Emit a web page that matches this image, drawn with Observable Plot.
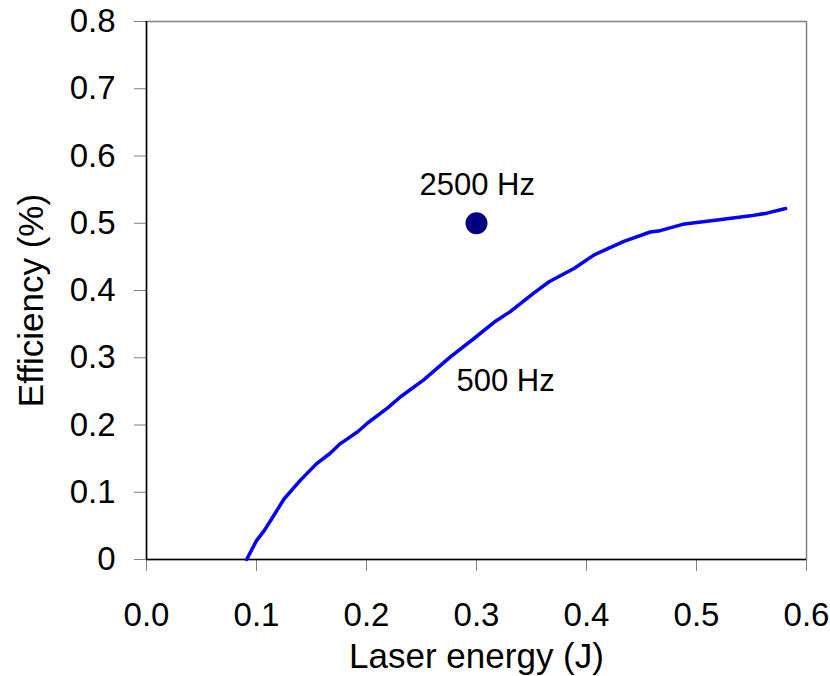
<!DOCTYPE html>
<html>
<head>
<meta charset="utf-8">
<script src="https://cdn.jsdelivr.net/npm/d3@7"></script>
<script src="https://cdn.jsdelivr.net/npm/@observablehq/plot@0.6"></script>
<style>
  html, body { margin: 0; padding: 0; background: #fff; }
  #chart { width: 830px; height: 676px; }
  svg { font-family: "Liberation Sans", Arial, sans-serif; }
</style>
</head>
<body>
<div id="chart"></div>
<script>
// 500 Hz curve: laser energy (J) vs efficiency (%)
const energy500 = [0.091, 0.100, 0.107, 0.114, 0.125, 0.140, 0.155, 0.167, 0.176, 0.192, 0.201, 0.219, 0.231, 0.252, 0.276, 0.298, 0.317, 0.331, 0.352, 0.366, 0.389, 0.407, 0.434, 0.458, 0.467, 0.489, 0.519, 0.549, 0.564, 0.581];
const eff500    = [0.000, 0.028, 0.043, 0.061, 0.090, 0.118, 0.143, 0.158, 0.172, 0.190, 0.203, 0.225, 0.242, 0.267, 0.301, 0.329, 0.354, 0.369, 0.396, 0.413, 0.433, 0.453, 0.473, 0.487, 0.489, 0.499, 0.505, 0.511, 0.515, 0.522];

// 2500 Hz single point
const energy2500 = [0.3];
const eff2500 = [0.5];

// annotation labels (data units)
const labelText = ["2500 Hz", "500 Hz"];
const labelX = [0.3006, 0.3264];
const labelY = [0.557, 0.265];

const xTicks = [0, 0.1, 0.2, 0.3, 0.4, 0.5, 0.6];
const yTicks = [0, 0.1, 0.2, 0.3, 0.4, 0.5, 0.6, 0.7, 0.8];
const xTitle = "Laser energy (J)";
const yTitle = "Efficiency (%)";

const curve = energy500.map((e, i) => ({e, v: eff500[i]}));
const point = energy2500.map((e, i) => ({e, v: eff2500[i]}));
const labels = labelText.map((t, i) => ({t, x: labelX[i], y: labelY[i]}));

const chart = Plot.plot({
  width: 830,
  height: 676,
  marginLeft: 146,
  marginRight: 24,
  marginTop: 21,
  marginBottom: 117,
  style: {fontFamily: '"Liberation Sans", Arial, sans-serif', background: "#fff", overflow: "visible"},
  x: {domain: [0, 0.6]},
  y: {domain: [0, 0.8]},
  marks: [
    Plot.frame({stroke: "#808080", strokeWidth: 1.5}),
    Plot.axisX(xTicks, {tickFormat: d3.format(".1f"), tickSize: 12, tickPadding: 31, stroke: "#808080", fill: "#000", fontSize: 33, label: null}),
    Plot.axisY(yTicks, {tickFormat: d => d === 0 ? "0" : d3.format(".1f")(d), tickSize: 12, tickPadding: 19, stroke: "#808080", fill: "#000", fontSize: 33, label: null}),
    Plot.ruleY([0], {stroke: "#000", strokeWidth: 1.5}),
    Plot.ruleX([0], {stroke: "#000", strokeWidth: 1.5}),
    Plot.line(curve, {x: "e", y: "v", stroke: "#0000ff", strokeWidth: 3.5}),
    Plot.dot(point, {x: "e", y: "v", r: 11, fill: "#000080", stroke: "none"}),
    Plot.text(labels, {x: "x", y: "y", text: "t", fontSize: 31, fill: "#000"}),
    Plot.text([xTitle], {frameAnchor: "bottom", textAnchor: "middle", lineAnchor: "middle", dy: 97, fontSize: 35, fill: "#000"}),
    Plot.text([yTitle], {frameAnchor: "left", textAnchor: "middle", lineAnchor: "middle", rotate: -90, dx: -115, dy: 10, fontSize: 35, fill: "#000"})
  ]
});
document.getElementById("chart").appendChild(chart);
</script>
</body>
</html>
